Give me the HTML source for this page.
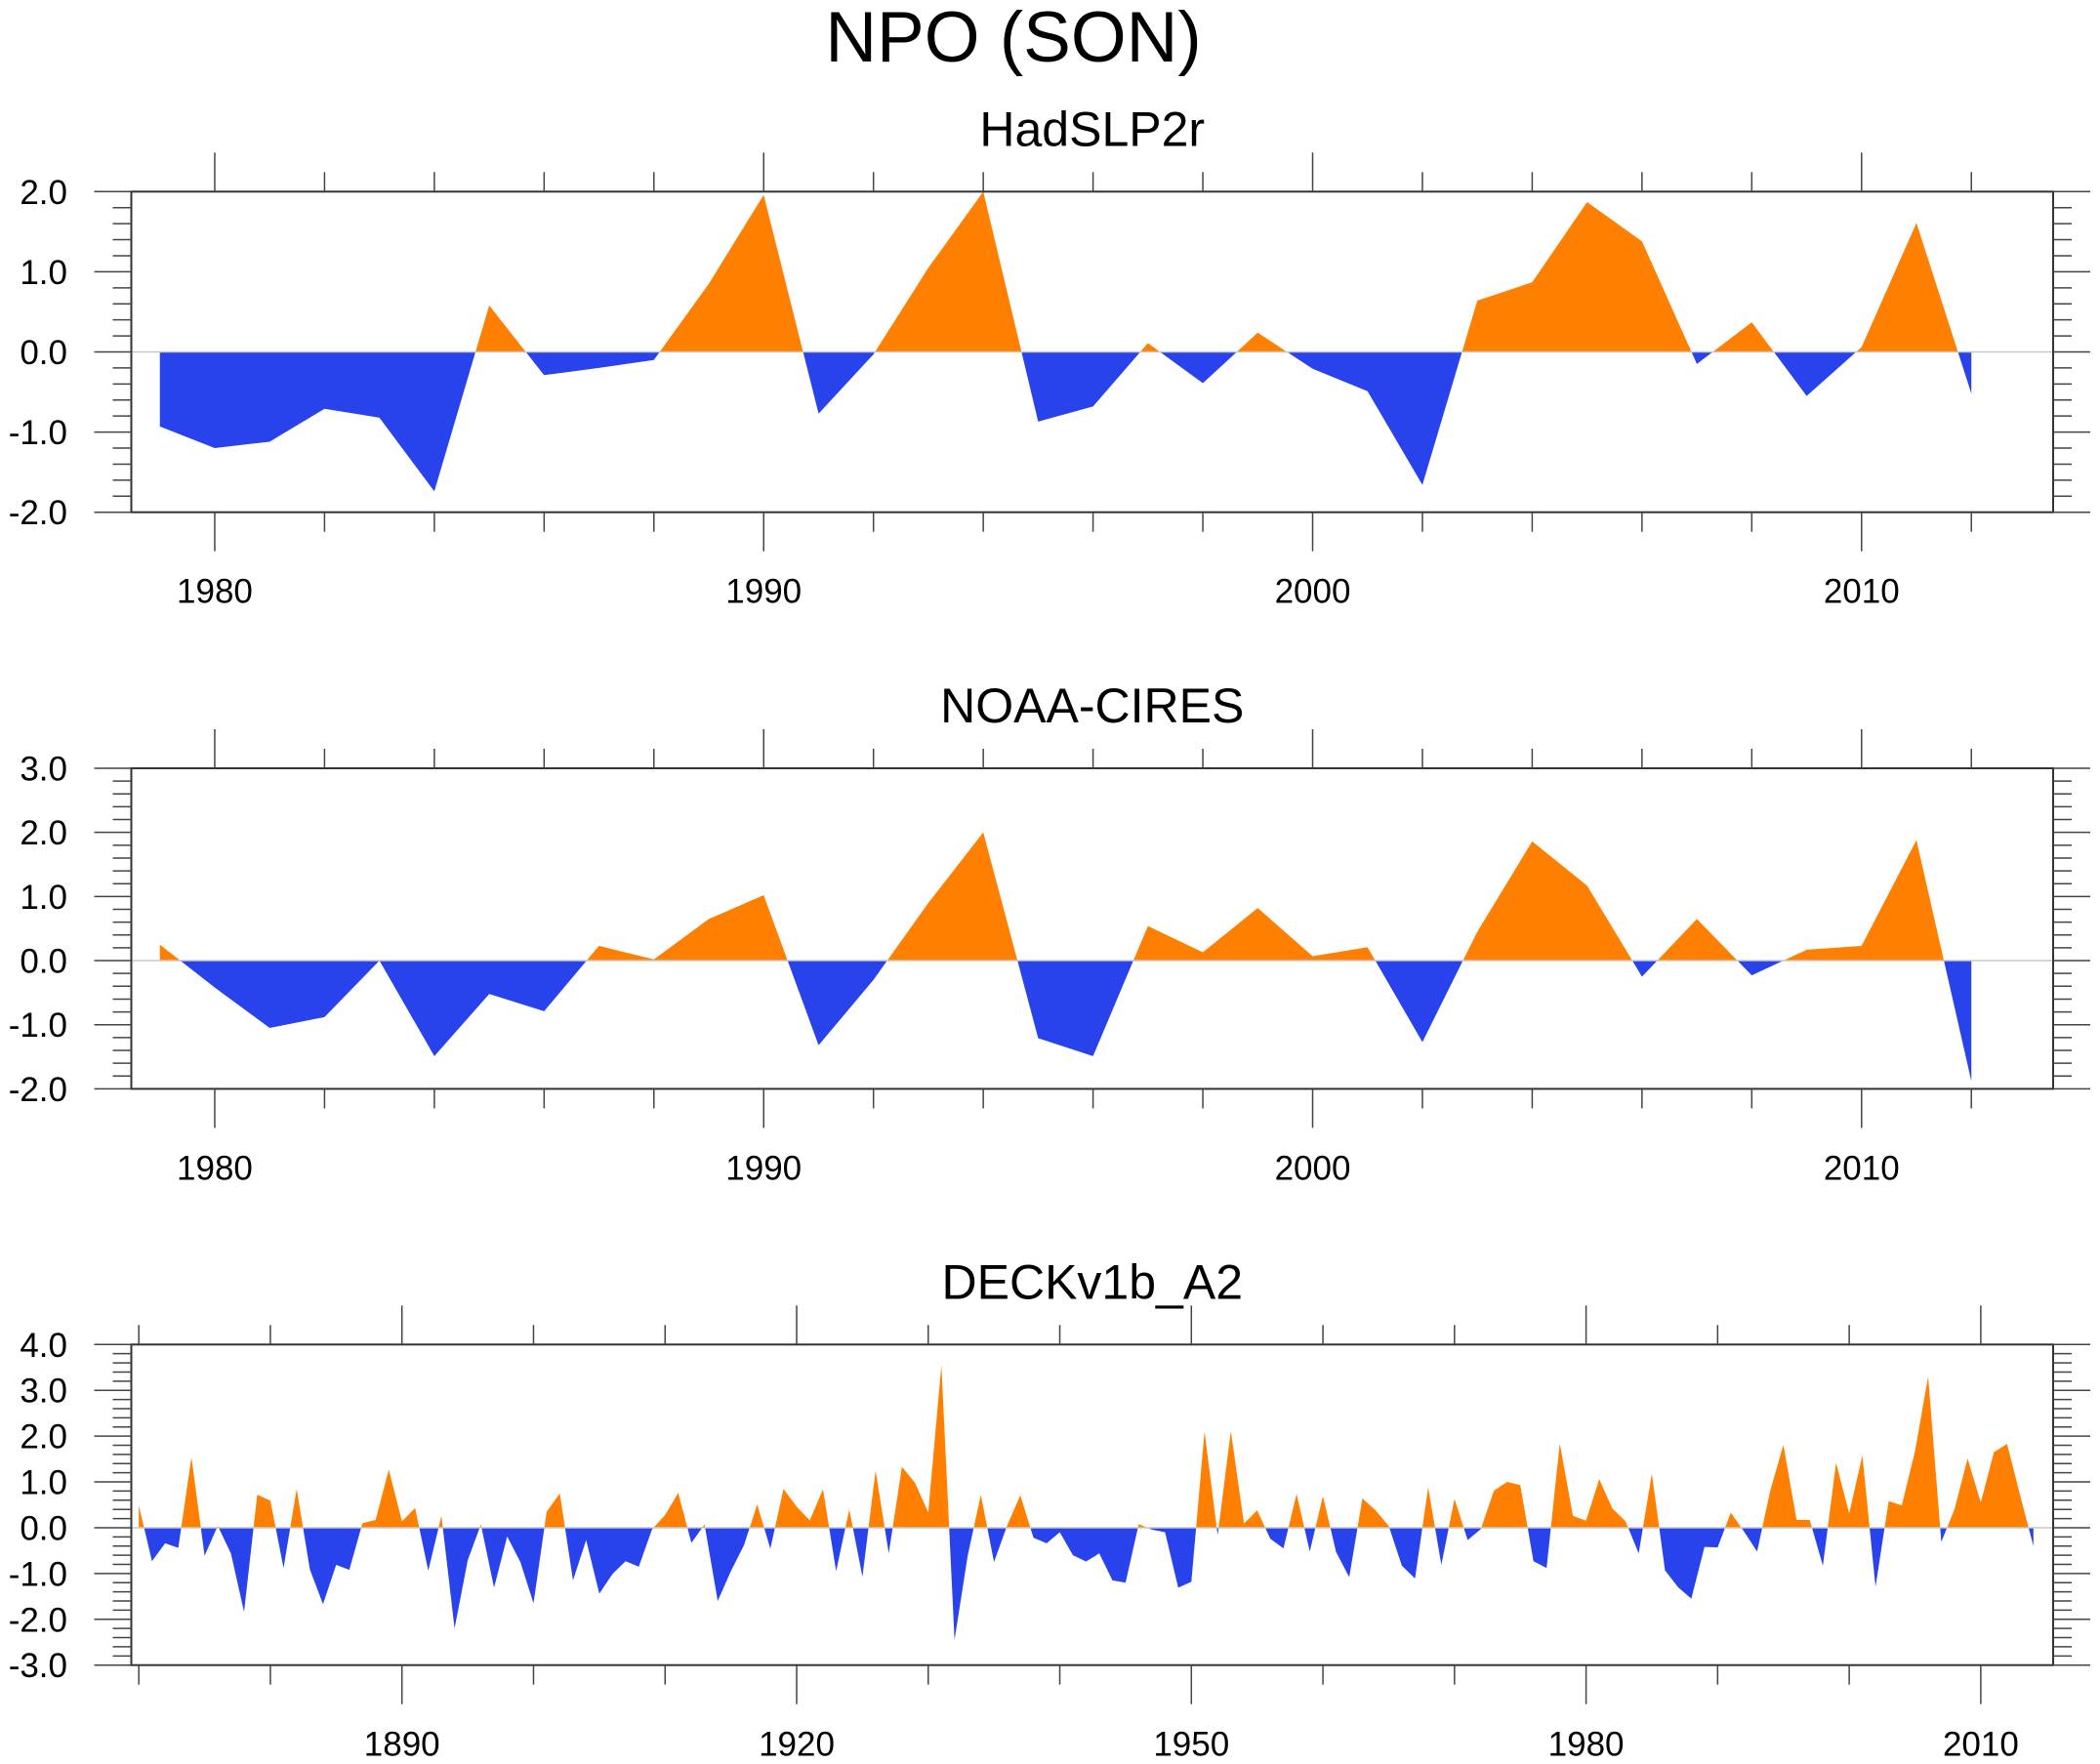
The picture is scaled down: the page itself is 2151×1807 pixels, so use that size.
<!DOCTYPE html>
<html><head><meta charset="utf-8"><title>NPO (SON)</title>
<style>
html,body{margin:0;padding:0;background:#fff;}
svg{display:block;font-family:"Liberation Sans",Arial,sans-serif;}
</style></head>
<body>
<svg id="chart" width="2151" height="1807" viewBox="0 0 2151 1807" xmlns="http://www.w3.org/2000/svg">
<text x="1038" y="63" font-size="73" text-anchor="middle" fill="#000">NPO (SON)</text>
</svg>
<script>
// ---- Panel 1: HadSLP2r (1979-2012)
const hadYears = [];
for (let y = 1979; y <= 2012; y++) hadYears.push(y);
const hadValues = [-0.93,-1.20,-1.12,-0.71,-0.82,-1.74,0.58,-0.29,-0.20,-0.10,0.85,1.96,-0.77,-0.03,1.05,2.00,-0.87,
  -0.68,0.11,-0.39,0.24,-0.21,-0.49,-1.66,0.64,0.87,1.87,1.38,-0.15,0.37,-0.55,0.06,1.61,-0.52];
// ---- Panel 2: NOAA-CIRES (1979-2012)
const noaaYears = hadYears.slice();
const noaaValues = [0.25,-0.42,-1.05,-0.88,0.0,-1.49,-0.52,-0.79,0.23,0.02,0.65,1.02,-1.32,-0.30,0.90,2.00,-1.21,
  -1.49,0.54,0.13,0.82,0.07,0.21,-1.27,0.45,1.86,1.17,-0.25,0.65,-0.23,0.17,0.23,1.88,-1.88];
// ---- Panel 3: DECKv1b_A2 (1870-2014)
const deckYears = [];
for (let y = 1870; y <= 2014; y++) deckYears.push(y);
const deckValues = [
  0.49,-0.73,-0.34,-0.44,1.54,-0.61,0.04,-0.56,-1.84,0.72,
  0.59,-0.88,0.85,-0.91,-1.67,-0.81,-0.92,0.10,0.17,1.27,
  0.14,0.43,-0.94,0.26,-2.20,-0.71,0.07,-1.31,-0.19,-0.75,
  -1.65,0.35,0.75,-1.15,-0.27,-1.44,-1.01,-0.73,-0.85,-0.04,
  0.28,0.76,-0.33,0.07,-1.60,-0.95,-0.38,0.51,-0.46,0.85,
  0.46,0.16,0.84,-0.95,0.40,-1.07,1.25,-0.56,1.33,0.98,
  0.33,3.55,-2.45,-0.61,0.72,-0.75,0.05,0.71,-0.22,-0.34,
  -0.10,-0.60,-0.74,-0.56,-1.15,-1.20,0.08,-0.04,-0.10,-1.31,
  -1.18,2.10,-0.16,2.11,0.09,0.38,-0.24,-0.45,0.74,-0.52,
  0.69,-0.53,-1.08,0.64,0.38,0.04,-0.83,-1.11,0.88,-0.81,
  0.63,-0.27,-0.03,0.81,1.00,0.93,-0.73,-0.88,1.84,0.26,
  0.15,1.06,0.42,0.14,-0.56,1.18,-0.93,-1.30,-1.55,-0.42,
  -0.43,0.33,-0.08,-0.52,0.81,1.81,0.17,0.17,-0.83,1.42,
  0.31,1.58,-1.29,0.58,0.49,1.67,3.30,-0.31,0.40,1.51,
  0.55,1.65,1.83,0.70,-0.40];
const yTicks1 = ["2.0","1.0","0.0","-1.0","-2.0"];
const yTicks2 = ["3.0","2.0","1.0","0.0","-1.0","-2.0"];
const yTicks3 = ["4.0","3.0","2.0","1.0","0.0","-1.0","-2.0","-3.0"];
const xLabels12 = [1980,1990,2000,2010];
const xLabels3 = [1890,1920,1950,1980,2010];

const svg = document.getElementById('chart');
const NS = 'http://www.w3.org/2000/svg';
function mk(tag, attrs, parent) {
  const e = document.createElementNS(NS, tag);
  for (const k in attrs) e.setAttribute(k, attrs[k]);
  (parent || svg).appendChild(e);
  return e;
}

function panel(cfg, idx) {
  const L = 134.5, R = 2103, T = cfg.top, B = cfg.top + 328.4;
  const g = mk('g', {});
  
  
  const xS = v => L + (v - cfg.xmin) / (cfg.xmax - cfg.xmin) * (R - L);
  const yS = v => B - (v - cfg.ymin) / (cfg.ymax - cfg.ymin) * (B - T);
  // title
  const t = mk('text', {x: (L + R) / 2, y: T - 47, 'font-size': 50, 'text-anchor': 'middle', fill: '#000'}, g);
  t.textContent = cfg.title;
  
  
  // clip paths
  const defs = mk('defs', {}, g);
  const y0 = yS(0);
  const cpA = mk('clipPath', {id: 'ca' + idx}, defs);
  mk('rect', {x: L, y: T, width: R - L, height: y0 - T}, cpA);
  const cpB = mk('clipPath', {id: 'cb' + idx}, defs);
  mk('rect', {x: L, y: y0, width: R - L, height: B - y0}, cpB);
  let d = 'M' + xS(cfg.years[0]) + ',' + y0;
  cfg.years.forEach((yr, i) => { d += ' L' + xS(yr) + ',' + yS(cfg.values[i]); });
  d += ' L' + xS(cfg.years[cfg.years.length - 1]) + ',' + y0 + ' Z';
  const pos = mk('path', {d: d, fill: '#FF8000', 'clip-path': 'url(#ca' + idx + ')'}, g);
  
  
  const neg = mk('path', {d: d, fill: '#2843EB', 'clip-path': 'url(#cb' + idx + ')'}, g);
  
  
  const zl = mk('line', {x1: L, x2: R, y1: y0, y2: y0, stroke: '#c8c8c8', 'stroke-width': 1.5}, g);
  
  
  // frame
  const fr = mk('rect', {x: L, y: T, width: R - L, height: B - T, fill: 'none', stroke: '#333', 'stroke-width': 2}, g);
  
  
  // y ticks
  const yt = cfg.yTicks.map(Number);
  for (let v = cfg.ymin; v <= cfg.ymax + 1e-6; v += 0.2) {
    const vv = Math.round(v * 10) / 10;
    const isMaj = Math.abs(vv - Math.round(vv)) < 1e-6;
    const len = isMaj ? 38 : 19;
    const y = yS(vv);
    mk('line', {x1: L - len, x2: L, y1: y, y2: y, stroke: '#444', 'stroke-width': 1.5}, g);
    mk('line', {x1: R, x2: R + len, y1: y, y2: y, stroke: '#444', 'stroke-width': 1.5}, g);
  }
  cfg.yTicks.forEach(s => {
    const lb = mk('text', {x: 69, y: yS(Number(s)) + 12.5, 'font-size': 35, 'text-anchor': 'end', fill: '#000'}, g);
    lb.textContent = s;
    
    
  });
  // x ticks
  const start = Math.ceil(cfg.xmin / cfg.minorStep) * cfg.minorStep;
  for (let v = start; v <= cfg.xmax; v += cfg.minorStep) {
    const isMaj = v % cfg.majorStep === 0;
    const len = isMaj ? 40 : 20;
    const x = xS(v);
    mk('line', {x1: x, x2: x, y1: T - len, y2: T, stroke: '#444', 'stroke-width': 1.5}, g);
    mk('line', {x1: x, x2: x, y1: B, y2: B + len, stroke: '#444', 'stroke-width': 1.5}, g);
  }
  cfg.xLabels.forEach(v => {
    const lb = mk('text', {x: xS(v), y: B + 93, 'font-size': 35, 'text-anchor': 'middle', fill: '#000'}, g);
    lb.textContent = v;
    
    
  });
}

panel({name: 'hadslp2r', title: 'HadSLP2r', top: 196.3, years: hadYears, values: hadValues,
  xmin: 1978.48, xmax: 2013.49, ymin: -2, ymax: 2, yTicks: yTicks1, xLabels: xLabels12, minorStep: 2, majorStep: 10}, 1);
panel({name: 'noaa-cires', title: 'NOAA-CIRES', top: 787, years: noaaYears, values: noaaValues,
  xmin: 1978.48, xmax: 2013.49, ymin: -2, ymax: 3, yTicks: yTicks2, xLabels: xLabels12, minorStep: 2, majorStep: 10}, 2);
panel({name: 'deckv1b-a2', title: 'DECKv1b_A2', top: 1377.3, years: deckYears, values: deckValues,
  xmin: 1869.43, xmax: 2015.5, ymin: -3, ymax: 4, yTicks: yTicks3, xLabels: xLabels3, minorStep: 10, majorStep: 30}, 3);
</script>
</body></html>
